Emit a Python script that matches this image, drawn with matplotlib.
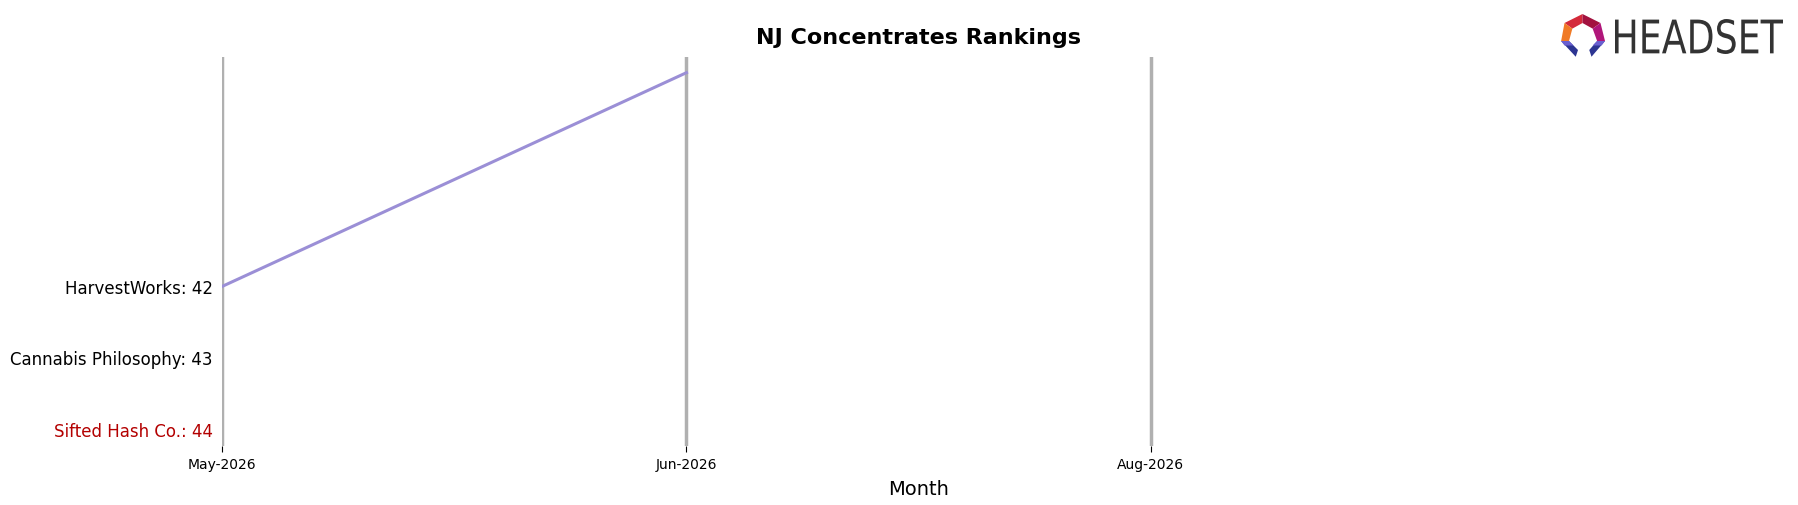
import matplotlib

matplotlib.use("Agg")
import matplotlib.pyplot as plt
from matplotlib.patches import Polygon, PathPatch
from matplotlib.textpath import TextPath
from matplotlib.font_manager import FontProperties
from matplotlib.transforms import Affine2D

months = ["May-2026", "Jun-2026", "Aug-2026"]
month_pos = [0, 1, 2]

brands = ["HarvestWorks", "Cannabis Philosophy", "Sifted Hash Co."]
brand_rank = [42, 43, 44]
brand_colors = ["black", "black", "#b30000"]

hw_x = [0, 1]
hw_rank = [42, 39]

W, H = 1798, 506
fig = plt.figure(figsize=(W / 100, H / 100), dpi=100)
ax = fig.add_axes([0.1237, 0.117, 0.7743, 1 - 58 / H - 0.117])

for x in month_pos:
    ax.axvline(x, color="#b0b0b0", lw=2.5, zorder=1)

ax.plot(hw_x, hw_rank, color="#9b8fd6", lw=2.2, zorder=2)

ax.set_xlim(0, 3)
ax.set_ylim(44.24, 38.78)
ax.set_xticks(month_pos)
ax.set_xticklabels(months, fontsize=10)
ax.set_yticks(brand_rank)
ax.set_yticklabels(["{}: {}".format(b, r) for b, r in zip(brands, brand_rank)], fontsize=12)
for lab, c in zip(ax.get_yticklabels(), brand_colors):
    lab.set_color(c)
ax.tick_params(axis="y", length=0, pad=7)
ax.tick_params(axis="x", length=4, pad=4)
for s in ax.spines.values():
    s.set_visible(False)
ax.set_xlabel("Month", fontsize=14, labelpad=6)
ax.set_title("NJ Concentrates Rankings", fontsize=16, fontweight="bold", pad=10)

# logo icon
lax = fig.add_axes([1560 / W, 1 - (12.75 + 54) / H, 54 / W, 54 / H])
lax.set_xlim(0, 48)
lax.set_ylim(48, 0)
lax.axis("off")
shapes = [
    ([(4, 10), (20, 2), (20, 10), (11, 15)], "#d42a3a"),
    ([(20, 2), (36, 10), (29, 15), (20, 10)], "#a3123f"),
    ([(36, 10), (40, 26), (33, 26), (29, 15)], "#b0167a"),
    ([(4, 10), (11, 15), (8, 26), (1, 26)], "#f07a26"),
    ([(1, 26), (8, 26), (16, 34), (14, 40)], "#2d3592"),
    ([(40, 26), (33, 26), (26, 34), (28, 40)], "#2d3592"),
    ([(1, 26), (8, 26), (12, 30), (4, 30)], "#6a5fd0"),
    ([(40, 26), (33, 26), (29, 30), (37, 30)], "#6a5fd0"),
]
for pts, c in shapes:
    lax.add_patch(Polygon(pts, closed=True, color=c, lw=0))

# logo wordmark, squeezed to fit its box in pixel coords
tp = TextPath((0, 0), "HEADSET", size=10, prop=FontProperties(family="DejaVu Sans"))
bb = tp.get_extents()
x0, x1, y0, y1 = 1615, 1783, H - 55, H - 20
tr = (Affine2D().translate(-bb.x0, -bb.y0)
      .scale((x1 - x0) / bb.width, (y1 - y0) / bb.height)
      .translate(x0, y0))
fig.patches.append(PathPatch(tp, transform=tr, color="#333333", lw=0))

fig.savefig("out.png", dpi=100)
